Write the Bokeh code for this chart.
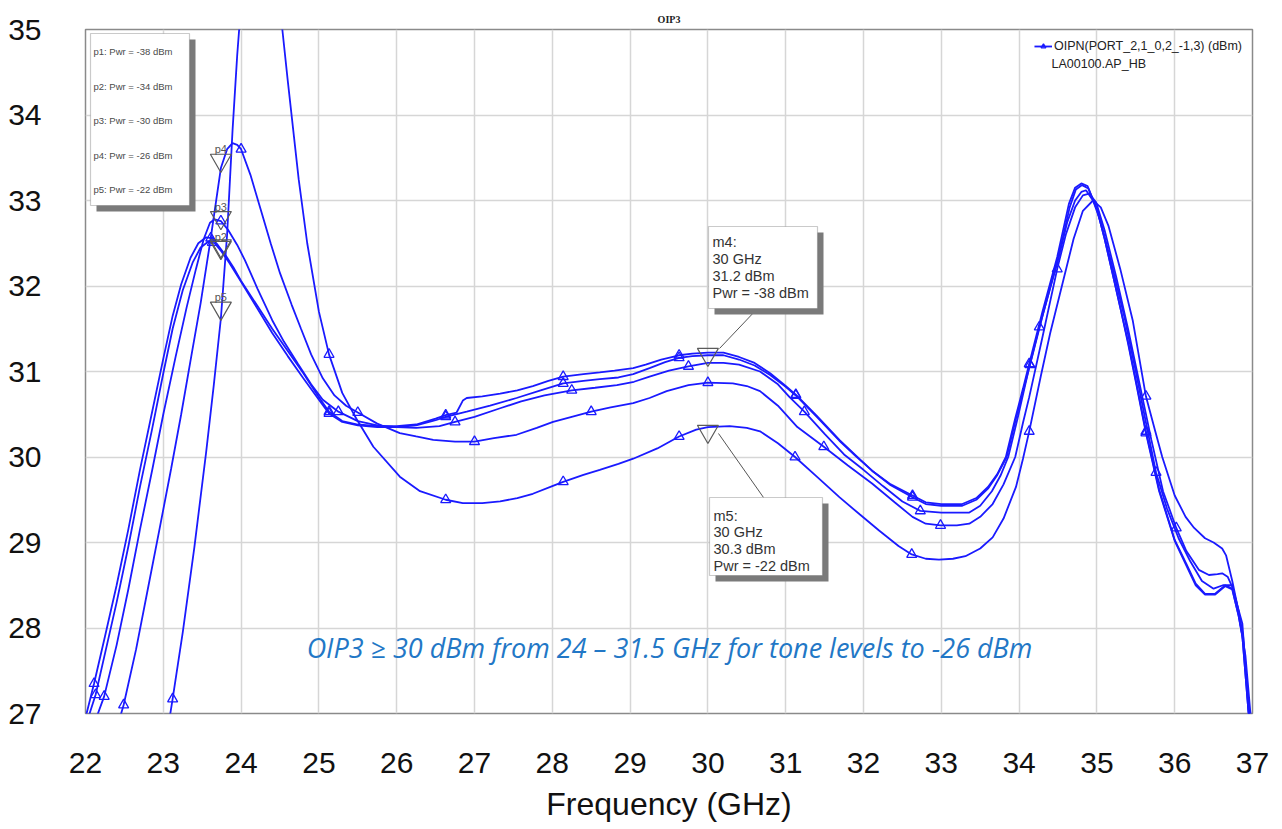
from bokeh.plotting import figure
from bokeh.models import FixedTicker, Label, BoxAnnotation, Legend, LegendItem, Range1d
from bokeh.embed import file_html
from bokeh.resources import INLINE

# ---------------- data ----------------
pwr_levels = [-38, -34, -30, -26, -22]
x_ticks = list(range(22, 38))
y_ticks = list(range(27, 36))

curve_m38 = [(22.0,26.95),(22.11,27.35),(22.25,27.9),(22.4,28.5),(22.55,29.15),(22.7,29.85),(22.85,30.5),(23.0,31.15),(23.12,31.65),(23.23,32.02),(23.35,32.33),(23.45,32.5),(23.55,32.57),(23.62,32.56),(23.7,32.48),(23.8,32.36),(23.9,32.22),(24.0,32.06),(24.2,31.78),(24.4,31.5),(24.6,31.24),(24.8,30.98),(25.0,30.7),(25.13,30.53),(25.3,30.42),(25.5,30.38),(25.75,30.36),(26.0,30.36),(26.25,30.38),(26.5,30.45),(26.63,30.49),(26.77,30.52),(26.85,30.66),(26.9,30.69),(27.1,30.71),(27.33,30.74),(27.55,30.78),(27.75,30.83),(27.95,30.89),(28.14,30.94),(28.4,30.97),(28.61,30.99),(28.8,31.01),(29.04,31.04),(29.2,31.08),(29.4,31.14),(29.63,31.19),(29.8,31.21),(30.0,31.22),(30.2,31.22),(30.4,31.17),(30.6,31.1),(30.8,30.98),(31.0,30.83),(31.13,30.73),(31.4,30.48),(31.69,30.2),(31.9,30.02),(32.11,29.84),(32.35,29.68),(32.63,29.55),(32.8,29.47),(33.0,29.45),(33.27,29.45),(33.45,29.52),(33.6,29.65),(33.72,29.8),(33.83,30.0),(33.95,30.45),(34.05,30.8),(34.13,31.09),(34.3,31.7),(34.49,32.34),(34.64,32.96),(34.72,33.15),(34.8,33.2),(34.88,33.17),(35.0,32.9),(35.1,32.55),(35.2,32.15),(35.3,31.75),(35.4,31.35),(35.5,30.9),(35.63,30.3),(35.8,29.62),(36.0,29.03),(36.15,28.75),(36.27,28.52),(36.39,28.4),(36.52,28.4),(36.65,28.5),(36.74,28.46),(36.82,28.15),(36.87,27.9),(36.95,27.0),(37.0,26.5)]
marks_m38 = [(22.11,27.35),(23.61,32.56),(25.13,30.53),(26.63,30.49),(28.14,30.94),(29.63,31.19),(31.13,30.73),(32.63,29.55),(34.13,31.09),(35.63,30.3)]

curve_m34 = [(22.0,26.85),(22.13,27.22),(22.25,27.7),(22.4,28.3),(22.55,28.95),(22.7,29.65),(22.85,30.3),(23.0,30.98),(23.12,31.5),(23.25,31.95),(23.38,32.28),(23.48,32.45),(23.58,32.52),(23.66,32.5),(23.75,32.4),(23.85,32.27),(24.0,32.05),(24.2,31.75),(24.4,31.45),(24.6,31.18),(24.8,30.92),(25.0,30.67),(25.13,30.51),(25.3,30.41),(25.5,30.37),(25.75,30.35),(26.0,30.35),(26.25,30.37),(26.5,30.43),(26.63,30.47),(26.9,30.53),(27.2,30.6),(27.54,30.69),(27.85,30.78),(28.14,30.86),(28.4,30.89),(28.61,30.91),(28.85,30.93),(29.04,30.97),(29.25,31.04),(29.45,31.11),(29.63,31.16),(29.8,31.18),(30.0,31.19),(30.2,31.19),(30.4,31.14),(30.6,31.07),(30.8,30.96),(31.0,30.82),(31.13,30.72),(31.4,30.47),(31.69,30.19),(31.9,30.01),(32.11,29.84),(32.35,29.67),(32.63,29.53),(32.8,29.45),(33.0,29.43),(33.27,29.43),(33.45,29.5),(33.6,29.63),(33.72,29.79),(33.84,30.0),(33.96,30.45),(34.06,30.8),(34.14,31.08),(34.31,31.68),(34.5,32.32),(34.65,32.92),(34.73,33.13),(34.81,33.18),(34.89,33.14),(35.0,32.9),(35.1,32.55),(35.2,32.15),(35.3,31.75),(35.4,31.33),(35.5,30.88),(35.63,30.28),(35.8,29.6),(36.0,29.02),(36.15,28.73),(36.27,28.5),(36.39,28.39),(36.52,28.39),(36.65,28.49),(36.74,28.45),(36.82,28.15),(36.87,27.9),(36.95,27.0),(37.0,26.5)]
marks_m34 = [(22.13,27.22),(23.63,32.51),(25.13,30.51),(26.63,30.47),(28.14,30.86),(29.63,31.16),(31.13,30.72),(32.63,29.53),(34.14,31.08),(35.63,30.28)]

curve_m30 = [(22.0,26.55),(22.1,26.85),(22.24,27.2),(22.4,27.8),(22.55,28.45),(22.7,29.15),(22.86,29.86),(23.0,30.5),(23.16,31.18),(23.3,31.75),(23.42,32.2),(23.52,32.55),(23.6,32.74),(23.66,32.78),(23.74,32.76),(23.83,32.66),(23.95,32.48),(24.05,32.3),(24.21,31.97),(24.4,31.6),(24.55,31.35),(24.73,31.09),(24.9,30.85),(25.05,30.67),(25.25,30.53),(25.5,30.42),(25.75,30.37),(26.0,30.35),(26.25,30.34),(26.55,30.36),(26.75,30.41),(27.0,30.47),(27.33,30.57),(27.6,30.65),(27.9,30.72),(28.25,30.78),(28.55,30.81),(28.83,30.84),(29.05,30.88),(29.25,30.94),(29.5,31.01),(29.75,31.06),(30.0,31.1),(30.2,31.1),(30.4,31.08),(30.67,31.0),(30.9,30.85),(31.05,30.7),(31.24,30.53),(31.5,30.27),(31.75,30.03),(32.0,29.85),(32.25,29.66),(32.5,29.48),(32.73,29.37),(33.0,29.35),(33.36,29.35),(33.5,29.43),(33.65,29.6),(33.76,29.78),(33.86,30.0),(33.98,30.45),(34.13,31.05),(34.26,31.52),(34.5,32.3),(34.62,32.75),(34.72,33.0),(34.8,33.1),(34.86,33.12),(34.95,33.0),(35.05,32.75),(35.2,32.22),(35.35,31.65),(35.5,31.0),(35.62,30.45),(35.76,29.82),(35.9,29.4),(36.05,29.05),(36.2,28.78),(36.35,28.55),(36.5,28.46),(36.62,28.5),(36.74,28.5),(36.82,28.2),(36.88,27.9),(36.95,27.1),(37.0,26.6)]
marks_m30 = [(22.24,27.2),(23.74,32.76),(25.25,30.53),(26.75,30.41),(28.25,30.78),(29.75,31.06),(31.24,30.53),(32.73,29.37),(34.26,31.52),(35.76,29.82)]

curve_m26 = [(22.3,26.5),(22.49,27.1),(22.65,27.75),(22.8,28.45),(22.95,29.15),(23.1,29.86),(23.23,30.5),(23.36,31.18),(23.48,31.8),(23.6,32.5),(23.74,33.38),(23.82,33.6),(23.89,33.67),(23.95,33.65),(24.0,33.6),(24.12,33.3),(24.25,32.9),(24.38,32.5),(24.5,32.15),(24.65,31.78),(24.77,31.5),(24.9,31.2),(25.05,30.92),(25.2,30.72),(25.35,30.6),(25.5,30.52),(25.75,30.39),(26.04,30.28),(26.25,30.24),(26.47,30.2),(26.75,30.18),(27.0,30.18),(27.25,30.22),(27.54,30.26),(27.8,30.34),(28.01,30.41),(28.25,30.47),(28.5,30.53),(28.75,30.58),(29.04,30.63),(29.25,30.69),(29.47,30.77),(29.75,30.84),(30.0,30.87),(30.32,30.86),(30.5,30.83),(30.67,30.77),(30.9,30.6),(31.15,30.35),(31.49,30.12),(31.8,29.9),(32.11,29.69),(32.4,29.47),(32.63,29.3),(32.8,29.22),(32.99,29.2),(33.2,29.2),(33.36,29.22),(33.5,29.3),(33.66,29.45),(33.8,29.68),(33.95,30.0),(34.05,30.4),(34.13,30.7),(34.3,31.4),(34.49,32.2),(34.6,32.6),(34.72,32.92),(34.82,33.06),(34.9,33.08),(34.99,32.98),(35.1,32.65),(35.25,32.1),(35.4,31.5),(35.55,30.85),(35.7,30.2),(35.85,29.6),(36.02,29.17),(36.15,28.9),(36.31,28.68),(36.44,28.62),(36.55,28.63),(36.61,28.64),(36.68,28.6),(36.74,28.48),(36.87,28.05),(36.95,27.04),(37.0,26.6)]
marks_m26 = [(22.49,27.1),(24.0,33.6),(25.5,30.52),(27.0,30.18),(28.5,30.53),(30.0,30.87),(31.49,30.12),(32.99,29.2),(34.49,32.2),(36.02,29.17)]

curve_m22 = [(22.95,26.2),(23.12,27.17),(23.25,27.95),(23.4,28.95),(23.55,30.05),(23.65,30.85),(23.74,31.62),(23.82,32.6),(23.89,33.82),(23.95,34.7),(24.0,35.3),(24.1,36.1),(24.25,36.6),(24.4,36.2),(24.53,35.0),(24.6,34.4),(24.74,33.25),(24.85,32.5),(25.0,31.7),(25.13,31.2),(25.3,30.75),(25.48,30.45),(25.7,30.12),(26.04,29.77),(26.3,29.6),(26.63,29.5),(26.85,29.46),(27.1,29.46),(27.33,29.48),(27.55,29.52),(27.75,29.57),(28.0,29.66),(28.14,29.71),(28.4,29.79),(28.61,29.85),(28.85,29.92),(29.04,29.98),(29.35,30.1),(29.63,30.24),(29.85,30.32),(30.0,30.35),(30.28,30.36),(30.5,30.34),(30.67,30.3),(30.9,30.16),(31.12,30.0),(31.4,29.77),(31.69,29.53),(31.95,29.33),(32.2,29.14),(32.45,28.96),(32.62,28.86),(32.8,28.81),(32.97,28.8),(33.15,28.81),(33.31,28.84),(33.5,28.93),(33.66,29.06),(33.8,29.28),(33.96,29.65),(34.05,29.98),(34.13,30.3),(34.28,30.95),(34.4,31.45),(34.55,32.0),(34.7,32.55),(34.82,32.88),(34.95,33.0),(35.05,32.92),(35.15,32.7),(35.3,32.2),(35.46,31.6),(35.63,30.71),(35.75,30.3),(35.84,30.0),(36.0,29.55),(36.14,29.3),(36.25,29.17),(36.39,29.05),(36.5,29.0),(36.61,28.93),(36.66,28.85),(36.74,28.55),(36.82,28.2),(36.91,27.67),(36.97,27.04),(37.0,26.8)]
marks_m22 = [(23.12,27.17),(25.13,31.2),(26.63,29.5),(28.14,29.71),(29.63,30.24),(31.12,30.0),(32.62,28.86),(34.13,30.3),(35.63,30.71)]

p_marker_names = ["p1", "p2", "p3", "p4", "p5"]
p_marker_freq = [23.74, 23.74, 23.74, 23.74, 23.74]
p_marker_oip3 = [32.47, 32.45, 32.80, 33.47, 31.74]

m_marker_names = ["m4", "m5"]
m_marker_freq = [30.0, 30.0]
m_marker_oip3 = [31.2, 30.3]
m_marker_pwr = [-38, -22]

curves = [curve_m38, curve_m34, curve_m30, curve_m26, curve_m22]
marks = [marks_m38, marks_m34, marks_m30, marks_m26, marks_m22]

# ---------------- layout helpers (pixel -> data for annotations) ----------------
FL, FT, FW, FH = 85, 29, 1167, 684
X0, X1, Y0, Y1 = 22, 37, 27, 35
def dx(px):
    return X0 + (px - FL) / FW * (X1 - X0)
def dy(py):
    return Y1 - (py - FT) / FH * (Y1 - Y0)

BLUE = "#1a1aff"
GRAY = "#5a5a5a"
FONT = "Liberation Sans"

p = figure(frame_width=FW, frame_height=FH,
           min_border_left=FL, min_border_top=FT, min_border_right=1282 - FL - FW, min_border_bottom=100,
           x_range=Range1d(X0, X1), y_range=Range1d(Y0, Y1),
           output_backend="svg", toolbar_location=None, title="OIP3")

p.background_fill_color = "white"
p.border_fill_color = "white"
p.outline_line_color = "#8a8a8a"
p.outline_line_width = 1.5

p.title.align = "center"
p.title.text_font = "Liberation Serif"
p.title.text_font_size = "10px"
p.title.text_font_style = "bold"
p.title.text_color = "#222222"

p.xaxis.ticker = FixedTicker(ticks=x_ticks)
p.yaxis.ticker = FixedTicker(ticks=y_ticks)
for ax in (p.xaxis, p.yaxis):
    ax.major_tick_line_color = None
    ax.minor_tick_line_color = None
    ax.axis_line_color = None
    ax.major_label_text_font = FONT
    ax.major_label_text_font_size = "30px"
    ax.major_label_text_color = "#111111"
p.xaxis.major_label_standoff = 33
p.yaxis.major_label_standoff = 38
p.xaxis.axis_label = "Frequency (GHz)"
p.xaxis.axis_label_text_font = FONT
p.xaxis.axis_label_text_font_size = "32px"
p.xaxis.axis_label_text_font_style = "normal"
p.xaxis.axis_label_text_color = "#111111"
p.xaxis.axis_label_standoff = 10

p.grid.grid_line_color = "#d6d6d6"
p.grid.grid_line_width = 1.5

line_renderers = []
mark_renderers = []
for crv, mk in zip(curves, marks):
    lr = p.line([c[0] for c in crv], [c[1] for c in crv], line_color=BLUE, line_width=1.8)
    mr = p.scatter([m[0] for m in mk], [m[1] for m in mk], marker="triangle", size=10,
                   line_color=BLUE, fill_color=None, line_width=1.3)
    line_renderers.append(lr)
    mark_renderers.append(mr)

# p markers
p.scatter(p_marker_freq, p_marker_oip3, marker="inverted_triangle", size=21,
          line_color=GRAY, fill_color=None, line_width=1.2)
for name, f, v in zip(p_marker_names, p_marker_freq, p_marker_oip3):
    if name == "p1":
        continue
    p.add_layout(Label(x=f, y=v, text=name, y_offset=5, text_align="center", text_baseline="bottom",
                       text_font=FONT, text_font_size="11px", text_color="#555555"))

# m markers
p.scatter(m_marker_freq, m_marker_oip3, marker="inverted_triangle", size=21,
          line_color=GRAY, fill_color=None, line_width=1.2)

# connector lines for m boxes
p.segment(x0=[dx(719), dx(718)], y0=[dy(348), dy(433)], x1=[dx(757), dx(763)], y1=[dy(308), dy(497)],
          line_color="#555555", line_width=1)

def shadow_box(l, t, r, b, off=6):
    p.add_layout(BoxAnnotation(left=dx(l + off), right=dx(r + off), top=dy(t + off), bottom=dy(b + off),
                               fill_color="#7a7a7a", fill_alpha=1, line_color=None))
    p.add_layout(BoxAnnotation(left=dx(l), right=dx(r), top=dy(t), bottom=dy(b),
                               fill_color="white", fill_alpha=1, line_color="#505050", line_width=1.2))

# left marker legend box
shadow_box(90, 33, 189, 205)
for lvl, name, ypx in zip(pwr_levels, p_marker_names, [51, 86, 120, 154.5, 189]):
    p.add_layout(Label(x=dx(93), y=dy(ypx), text=f"{name}: Pwr = {lvl} dBm", text_align="left",
                       text_baseline="middle", text_font=FONT, text_font_size="9.5px", text_color="#4a4a4a"))

# m4 / m5 callouts
box_geom = [(708, 226, 817, 308, 712, [241.7, 258.7, 275.8, 292.5]),
            (709, 497, 822, 575, 713, [515, 531.5, 548, 565])]
for (l, t, r, b, tx, ys), name, f, v, lvl in zip(box_geom, m_marker_names, m_marker_freq, m_marker_oip3, m_marker_pwr):
    shadow_box(l, t, r, b)
    lines = [f"{name}:", f"{f:g} GHz", f"{v:g} dBm", f"Pwr = {lvl} dBm"]
    for txt, ypx in zip(lines, ys):
        p.add_layout(Label(x=dx(tx), y=dy(ypx), text=txt, text_align="left", text_baseline="middle",
                           text_font=FONT, text_font_size="14.5px", text_color="#333333"))

# note text
p.add_layout(Label(x=dx(669), y=dy(647), text="OIP3 \u2265 30 dBm from 24 \u2013 31.5 GHz for tone levels to -26 dBm",
                   text_align="center", text_baseline="middle", text_font="Open Sans",
                   text_font_style="italic", text_font_size="27px", text_color="#2277c6"))

# legend (top right)
legend = Legend(items=[LegendItem(label="OIPN(PORT_2,1_0,2_-1,3) (dBm)",
                                  renderers=[line_renderers[0], mark_renderers[0]])],
                location="top_right", margin=10, padding=2, spacing=0,
                glyph_width=18, glyph_height=12, label_height=12, label_standoff=2,
                label_text_font=FONT, label_text_font_size="12.5px", label_text_color="#222222",
                border_line_color=None, background_fill_alpha=0)
p.add_layout(legend)
p.add_layout(Label(x=dx(1051), y=dy(63), text="LA00100.AP_HB", text_align="left", text_baseline="middle",
                   text_font=FONT, text_font_size="12.5px", text_color="#222222"))

open("out.html", "w").write(file_html(p, INLINE))
